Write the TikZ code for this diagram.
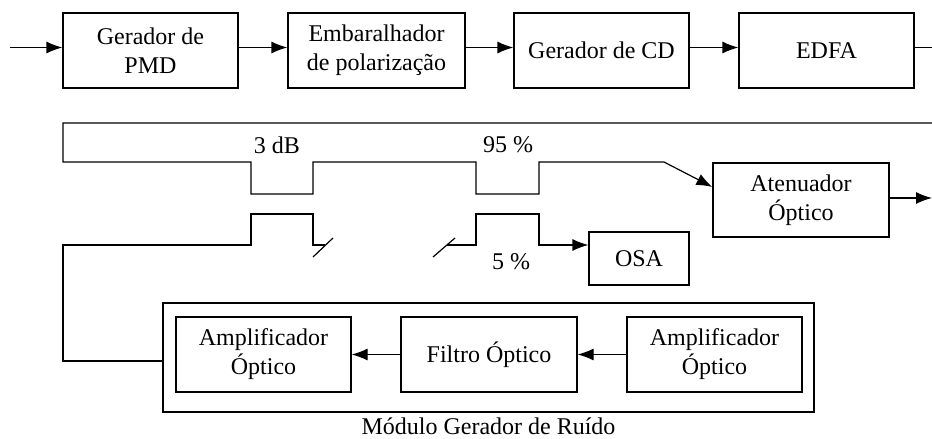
\documentclass[tikz,border=0pt]{standalone}
\usepackage{fontspec}
\setmainfont{Liberation Serif}
\usetikzlibrary{arrows.meta}
\tikzset{
  bloco/.style={draw, line width=0.6pt, minimum height=37.5pt, minimum width=87.5pt, align=center, inner sep=1pt,
    font=\fontsize{12pt}{14.4pt}\selectfont},
  seta/.style={-{Latex[length=8pt,width=6pt]}, line width=0.6pt},
  guia/.style={line width=0.6pt},
  rotulo/.style={font=\fontsize{12pt}{14.4pt}\selectfont, inner sep=0pt}
}
\begin{document}
\begin{tikzpicture}[x=0.5pt, y=-0.5pt]
		\useasboundingbox (0,0) rectangle (932,439);
		\node[bloco] (pmd) at (150.5,50.5) {Gerador de\\PMD};
		\node[bloco, minimum width=88.5pt] (emb) at (376.5,50.5) {Embaralhador\\de polarização};
		\node[bloco] (cd) at (601.5,50.5) {Gerador de CD};
		\node[bloco] (edfa) at (826.5,50.5) {EDFA};
		\node[bloco, minimum width=88pt, minimum height=37pt] (aten) at (801,200) {Atenuador\\Óptico};
		\node[bloco, minimum width=50pt, minimum height=26.5pt] (osa) at (639,258.5) {OSA};
		\node[draw, line width=0.6pt, minimum width=325.5pt, minimum height=54.5pt] (modulo) at (488.5,357.5) {};
		\node[bloco] (ampB) at (263.5,354.5) {Amplificador\\Óptico};
		\node[bloco, minimum width=88pt] (filtro) at (489,354.5) {Filtro Óptico};
		\node[bloco] (ampA) at (714.5,354.5) {Amplificador\\Óptico};
		\node[rotulo, below=2.5pt] (nome) at (modulo.south) {Módulo Gerador de Ruído};
		\coordinate (ent) at (10,47.5);
		\coordinate (sai) at (932,47.5);
		\coordinate (volta) at (932,123);
		\coordinate (saiat) at (932,198);
		\draw[seta] (ent) -- ([yshift=1.5pt]pmd.west);
		\draw[seta] ([yshift=1.5pt]pmd.east) -- ([yshift=1.5pt]emb.west);
		\draw[seta] ([yshift=1.5pt]emb.east) -- ([yshift=1.5pt]cd.west);
		\draw[seta] ([yshift=1.5pt]cd.east) -- ([yshift=1.5pt]edfa.west);
		\draw[guia] ([yshift=1.5pt]edfa.east) -- (sai);
		\draw[seta] (volta) -- (63,123) -- (63,162) -- (251,162) -- (251,194) -- (313,194) -- (313,162) -- (476,162) -- (476,194) -- (539,194) -- (539,162) -- (664,162) -- ([yshift=6.5pt]aten.west);
		\draw[seta] ([yshift=1pt]aten.east) -- (saiat);
		\draw[guia] (325,245) -- (313,245) -- (313,214) -- (251,214) -- (251,245) -- (63,245) -- (63,361) -- (modulo.west |- 0,361);
		\draw[guia] (313,257) -- (333,238);
		\draw[guia] (433,257) -- (455,238);
		\draw[seta] (447,245) -- (476,245) -- (476,214) -- (539,214) -- (539,245) -- (osa.west |- 0,245);
		\draw[seta] (ampA) -- (filtro);
		\draw[seta] (filtro) -- (ampB);
		\node[rotulo] (tresdb) at (277,145) {3 dB};
		\node[rotulo] (noventa) at (508,145) {95 \%};
		\node[rotulo] (cinco) at (511,262) {5 \%};
		\end{tikzpicture}
\end{document}
